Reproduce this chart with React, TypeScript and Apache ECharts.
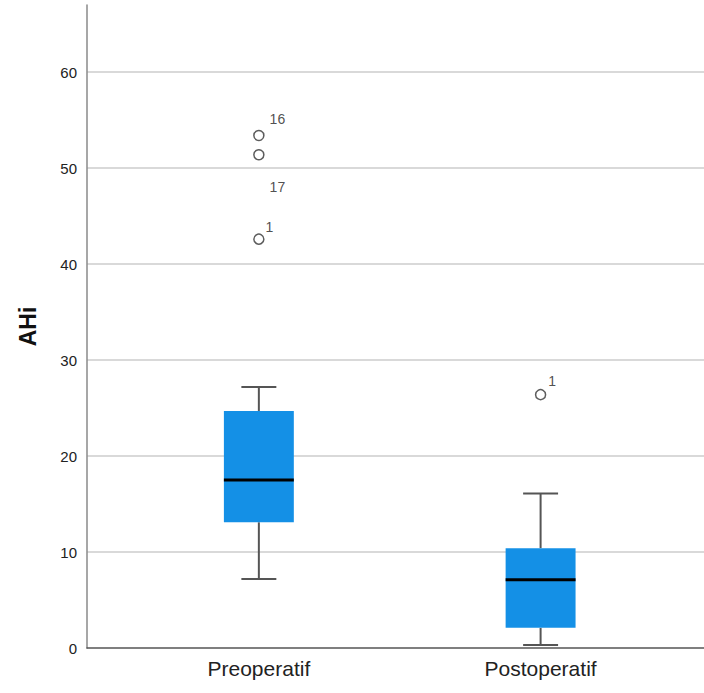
import React, { useEffect, useRef } from 'react';
import * as echarts from 'echarts';

const categories = ['Preoperatif', 'Postoperatif'];
const categoryPositions = [1, 2];
// [lower whisker, Q1, median, Q3, upper whisker]
const boxStats = [
  [7.2, 13.1, 17.5, 24.7, 27.2],
  [0.3, 2.1, 7.1, 10.4, 16.1],
];
// [category position, value]
const outlierPoints = [
  [1, 53.4],
  [1, 51.4],
  [1, 42.6],
  [2, 26.4],
];
const outlierLabels = ['16', '17', '1', '1'];
const gridValues = [10, 20, 30, 40, 50, 60];
const yTickLabels = [0, 10, 20, 30, 40, 50, 60];

const labelOffsets = [
  [5, -17],
  [5, 32],
  [1, -12],
  [2, -14],
];

const FONT = 'Liberation Sans, Arial, sans-serif';

export default function App() {
  const ref = useRef<HTMLDivElement>(null);
  useEffect(() => {
    if (!ref.current) return;
    const chart = echarts.init(ref.current, null, { renderer: 'svg' });
    const halfBox = 35 / 282;
    const halfCap = 17.5 / 282;
    const boxData = categoryPositions.map((p, i) => [p, ...boxStats[i]]);
    chart.setOption({
      animation: false,
      backgroundColor: '#ffffff',
      grid: { left: 87, right: 0, top: 5, bottom: 45, containLabel: false },
      xAxis: {
        type: 'value',
        min: 0.39,
        max: 2.58,
        splitLine: { show: false },
        axisTick: { show: false },
        axisLine: { show: true, onZero: false, lineStyle: { color: '#555555', width: 1.5 } },
        axisLabel: {
          customValues: categoryPositions,
          formatter: (v: number) => {
            const i = categoryPositions.indexOf(Math.round(v));
            return i >= 0 ? categories[i] : '';
          },
          color: '#222222',
          fontSize: 21,
          fontFamily: FONT,
          margin: 10,
        },
      },
      yAxis: {
        type: 'value',
        min: 0,
        max: 67,
        name: 'AHi',
        nameLocation: 'middle',
        nameGap: 48,
        nameRotate: 90,
        nameTextStyle: { fontSize: 23, fontWeight: 'bold', color: '#111111', fontFamily: FONT },
        splitLine: { show: false },
        axisTick: { show: false },
        axisLine: { show: true, lineStyle: { color: '#8a8a8a', width: 1.5 } },
        axisLabel: {
          customValues: yTickLabels,
          color: '#222222',
          fontSize: 15,
          fontFamily: FONT,
          margin: 10,
        },
      },
      series: [
        {
          type: 'custom',
          name: 'box',
          data: boxData,
          encode: { x: 0, y: [1, 2, 3, 4, 5] },
          markLine: {
            silent: true,
            symbol: 'none',
            label: { show: false },
            lineStyle: { color: '#cccccc', width: 1.5, type: 'solid' },
            data: gridValues.map((v) => ({ yAxis: v })),
            z: 0,
          },
          z: 2,
          renderItem: (params: any, api: any) => {
            const x = api.value(0);
            const lo = api.value(1);
            const q1 = api.value(2);
            const med = api.value(3);
            const q3 = api.value(4);
            const hi = api.value(5);
            const pLo = api.coord([x, lo]);
            const pQ1 = api.coord([x, q1]);
            const pMed = api.coord([x, med]);
            const pQ3 = api.coord([x, q3]);
            const pHi = api.coord([x, hi]);
            const left = api.coord([x - halfBox, q1])[0];
            const right = api.coord([x + halfBox, q1])[0];
            const cl = api.coord([x - halfCap, q1])[0];
            const cr = api.coord([x + halfCap, q1])[0];
            const whisk = { stroke: '#555555', lineWidth: 2 };
            return {
              type: 'group',
              children: [
                { type: 'line', shape: { x1: pHi[0], y1: pHi[1], x2: pQ3[0], y2: pQ3[1] }, style: whisk },
                { type: 'line', shape: { x1: pLo[0], y1: pLo[1], x2: pQ1[0], y2: pQ1[1] }, style: whisk },
                { type: 'line', shape: { x1: cl, y1: pHi[1], x2: cr, y2: pHi[1] }, style: whisk },
                { type: 'line', shape: { x1: cl, y1: pLo[1], x2: cr, y2: pLo[1] }, style: whisk },
                {
                  type: 'rect',
                  shape: { x: left, y: pQ3[1], width: right - left, height: pQ1[1] - pQ3[1] },
                  style: { fill: '#1490e6', stroke: 'none' },
                },
                {
                  type: 'line',
                  shape: { x1: left, y1: pMed[1], x2: right, y2: pMed[1] },
                  style: { stroke: '#000000', lineWidth: 3 },
                },
              ],
            };
          },
        },
        {
          type: 'scatter',
          name: 'outliers',
          z: 3,
          symbol: 'circle',
          symbolSize: 10,
          itemStyle: { color: '#ffffff', borderColor: '#333333', borderWidth: 1.5 },
          data: outlierPoints.map((p, i) => ({
            value: p,
            label: {
              show: true,
              position: 'right',
              distance: 0,
              offset: labelOffsets[i],
              formatter: outlierLabels[i],
              color: '#222222',
              fontSize: 14,
              fontFamily: FONT,
            },
          })),
        },
      ],
    });
    return () => chart.dispose();
  }, []);
  return <div ref={ref} style={{ width: 704, height: 693, position: 'absolute', left: 0, top: 0 }} />;
}
